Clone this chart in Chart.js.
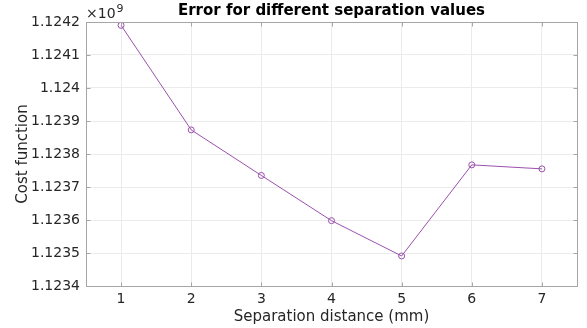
<!DOCTYPE html>
<html>
<head>
<meta charset="utf-8">
<script src="https://cdn.jsdelivr.net/npm/chart.js@4/dist/chart.umd.min.js"></script>
<style>
    html, body { margin: 0; padding: 0; background: #fff; }
    #wrap { width: 587px; height: 328px; }
</style>
</head>
<body>
<div id="wrap"><canvas id="errChart"></canvas></div>
<script>
// Данные графика (значения в единицах 10^9)
const separations = [1, 2, 3, 4, 5, 6, 7];
const costValues = [1.12419, 1.123873, 1.123735, 1.123598, 1.123491, 1.123767, 1.123755];
const xTicks = [1, 2, 3, 4, 5, 6, 7];
const yTicks = [1.1234, 1.1235, 1.1236, 1.1237, 1.1238, 1.1239, 1.124, 1.1241, 1.1242];

const FONT = "'DejaVu Sans', sans-serif";
const lineColor = '#9a50ad';

// Рамка вокруг области графика, внутренние засечки и множитель ×10^9
const boxPlugin = {
    id: 'boxPlugin',
    afterDraw(chart) {
        const { ctx, chartArea: a, scales } = chart;
        const L = Math.round(a.left) + 0.5, T = Math.round(a.top) + 0.5;
        const R = Math.round(a.right) + 0.5, B = Math.round(a.bottom) + 0.5;
        ctx.save();
        ctx.strokeStyle = '#a6a6a6';
        ctx.lineWidth = 1;
        ctx.strokeRect(L, T, R - L, B - T);
        // засечки внутрь
        ctx.beginPath();
        xTicks.forEach(v => {
            const px = Math.round(scales.x.getPixelForValue(v)) + 0.5;
            ctx.moveTo(px, B); ctx.lineTo(px, B - 4);
            ctx.moveTo(px, T); ctx.lineTo(px, T + 4);
        });
        yTicks.forEach(v => {
            const py = Math.round(scales.y.getPixelForValue(v)) + 0.5;
            ctx.moveTo(L, py); ctx.lineTo(L + 4, py);
            ctx.moveTo(R, py); ctx.lineTo(R - 4, py);
        });
        ctx.stroke();
        ctx.fillStyle = '#262626';
        ctx.textBaseline = 'alphabetic';
        ctx.textAlign = 'left';
        ctx.font = `14px ${FONT}`;
        ctx.fillText('×10', a.left, 18);
        const w = ctx.measureText('×10').width;
        ctx.font = `11px ${FONT}`;
        ctx.fillText('9', a.left + w + 1, 12);
        ctx.restore();
    }
};

const ctx = document.getElementById('errChart').getContext('2d');
new Chart(ctx, {
    type: 'line',
    data: {
        datasets: [{
            data: separations.map((x, i) => ({ x, y: costValues[i] })),
            borderColor: lineColor,
            borderWidth: 1,
            pointStyle: 'circle',
            pointRadius: 3,
            pointBorderWidth: 1,
            pointBorderColor: lineColor,
            pointBackgroundColor: 'rgba(0,0,0,0)',
            tension: 0,
            fill: false
        }]
    },
    options: {
        responsive: true,
        maintainAspectRatio: false,
        animation: false,
        layout: { padding: { top: 0, right: 10, left: 0, bottom: 0 } },
        plugins: {
            legend: { display: false },
            tooltip: { enabled: false },
            title: {
                display: true,
                fullSize: false,
                text: 'Error for different separation values',
                color: '#000',
                font: { family: FONT, size: 15, weight: 'bold' },
                padding: { top: 2, bottom: 2 }
            }
        },
        scales: {
            x: {
                type: 'linear',
                min: 0.5,
                max: 7.5,
                afterBuildTicks: (axis) => { axis.ticks = xTicks.map(v => ({ value: v })); },
                afterFit: (axis) => { axis.height = 42; },
                grid: { color: '#ebebeb', drawTicks: false },
                border: { display: false },
                ticks: {
                    color: '#262626',
                    padding: 5,
                    font: { family: FONT, size: 14 },
                    callback: (v) => String(v)
                },
                title: {
                    display: true,
                    text: 'Separation distance (mm)',
                    color: '#262626',
                    font: { family: FONT, size: 15 },
                    padding: { top: 0, bottom: 2 }
                }
            },
            y: {
                min: 1.1234,
                max: 1.1242,
                afterBuildTicks: (axis) => { axis.ticks = yTicks.map(v => ({ value: v })); },
                afterFit: (axis) => { axis.width = 86; },
                grid: { color: '#ebebeb', drawTicks: false },
                border: { display: false },
                ticks: {
                    color: '#262626',
                    padding: 6,
                    font: { family: FONT, size: 14 },
                    callback: (v) => String(Number(v.toFixed(4)))
                },
                title: {
                    display: true,
                    text: 'Cost function',
                    color: '#262626',
                    font: { family: FONT, size: 15 },
                    padding: { top: 14, bottom: 0 }
                }
            }
        }
    },
    plugins: [boxPlugin]
});
</script>
</body>
</html>
